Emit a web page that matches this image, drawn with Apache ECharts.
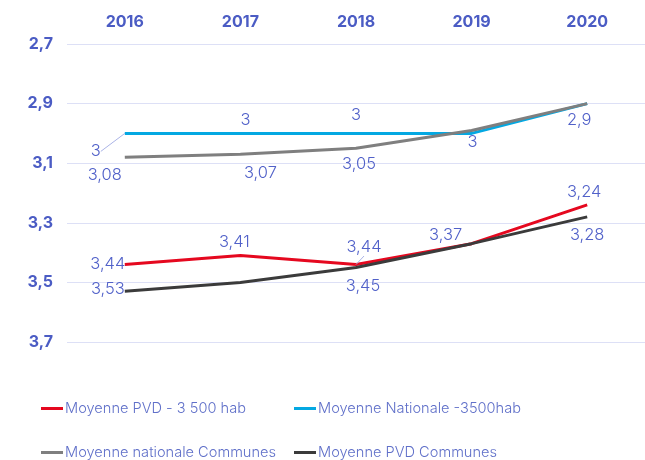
<!DOCTYPE html>
<html><head><meta charset="utf-8">
<script src="https://cdn.jsdelivr.net/npm/echarts@6/dist/echarts.min.js"></script>
<style>html,body{margin:0;padding:0;background:#fff}#c{width:645px;height:460px}</style>
</head><body><div id="c"></div>
<script>
const years = ['2016','2017','2018','2019','2020'];
const pvd3500 = [3.44, 3.41, 3.44, 3.37, 3.24];
const nat3500 = [3.00, 3.00, 3.00, 3.00, 2.90];
const natCommunes = [3.08, 3.07, 3.05, 2.99, 2.90];
const pvdCommunes = [3.53, 3.50, 3.45, 3.37, 3.28];
const yTicks = [2.7, 2.9, 3.1, 3.3, 3.5, 3.7];

const names = ['Moyenne PVD - 3 500 hab','Moyenne Nationale -3500hab','Moyenne nationale Communes','Moyenne PVD Communes'];
const colors = ['#e5081f','#04a8e2','#7f7f7f','#3b3b3b'];

// label offsets (px) relative to each point; null = no label
const labelOffsets = [
  [[-17,0],[-6,-14],[8,-17],[-26,-9],[-3,-13]],
  [[-29,18],[5,-13],[0,-18],[1,9],[-8,16]],
  [[-20,18],[20,19],[3,16],null,null],
  [[-17,-2],null,[7,19],null,[0,18]]
];
const labelLines = [[0,2],[1,0]]; // [series, point] with a leader line
const fmt = v => String(+v.toFixed(2)).replace('.', ',');
const labelColor = '#5161c9';
const fontFam = 'Inter';

function mk(values, idx){
  return values.map((v,i)=>{
    const o = labelOffsets[idx][i];
    const hasLine = labelLines.some(l=>l[0]===idx && l[1]===i);
    return {value:v,
      label: o ? {show:true, position:'inside', offset:o} : {show:false},
      labelLine:{show:hasLine}};
  });
}

const series = [pvd3500, nat3500, natCommunes, pvdCommunes].map((vals,idx)=>({
  name: names[idx],
  type:'line',
  data: mk(vals, idx),
  symbol:'circle', symbolSize:0, showSymbol:true,
  lineStyle:{color:colors[idx], width:3},
  itemStyle:{color:colors[idx]},
  z: [4,2,3,5][idx],
  label:{color:labelColor, fontSize:16.5, fontWeight:300, fontFamily:fontFam, formatter:p=>fmt(p.value)},
  labelLine:{show:false, lineStyle:{color:'#aab3e6', width:1}}
}));

const legends = names.map((n,i)=>({
  data:[n], left:[41,294,41,294][i], top:[401,401,445,445][i], padding:0,
  icon:'rect', itemWidth:22, itemHeight:3, itemGap:0,
  textStyle:{color:'#6070c9', fontSize:14.6, fontWeight:300, fontFamily:fontFam, padding:[0,0,0,-3]},
  selectedMode:false
}));

const chart = echarts.init(document.getElementById('c'));
chart.setOption({
  animation:false,
  color: colors,
  grid:{left:67, right:-12, top:44, bottom:118},
  legend: legends,
  xAxis:{type:'category', data:years, position:'top', boundaryGap:true,
    axisLine:{show:false}, axisTick:{show:false}, splitLine:{show:false},
    axisLabel:{color:'#4b5cc4', fontWeight:'bold', fontSize:16, fontFamily:fontFam, margin:14}},
  yAxis:{type:'value', inverse:true, min:yTicks[0], max:yTicks[yTicks.length-1], interval:0.2,
    axisLine:{show:false}, axisTick:{show:false},
    splitLine:{lineStyle:{color:'#dde0f6', width:1}},
    axisLabel:{color:'#4b5cc4', fontWeight:'bold', fontSize:16, fontFamily:fontFam, margin:14,
      formatter:v=>v.toFixed(1).replace('.', ',')}},
  series: series
});
</script></body></html>
